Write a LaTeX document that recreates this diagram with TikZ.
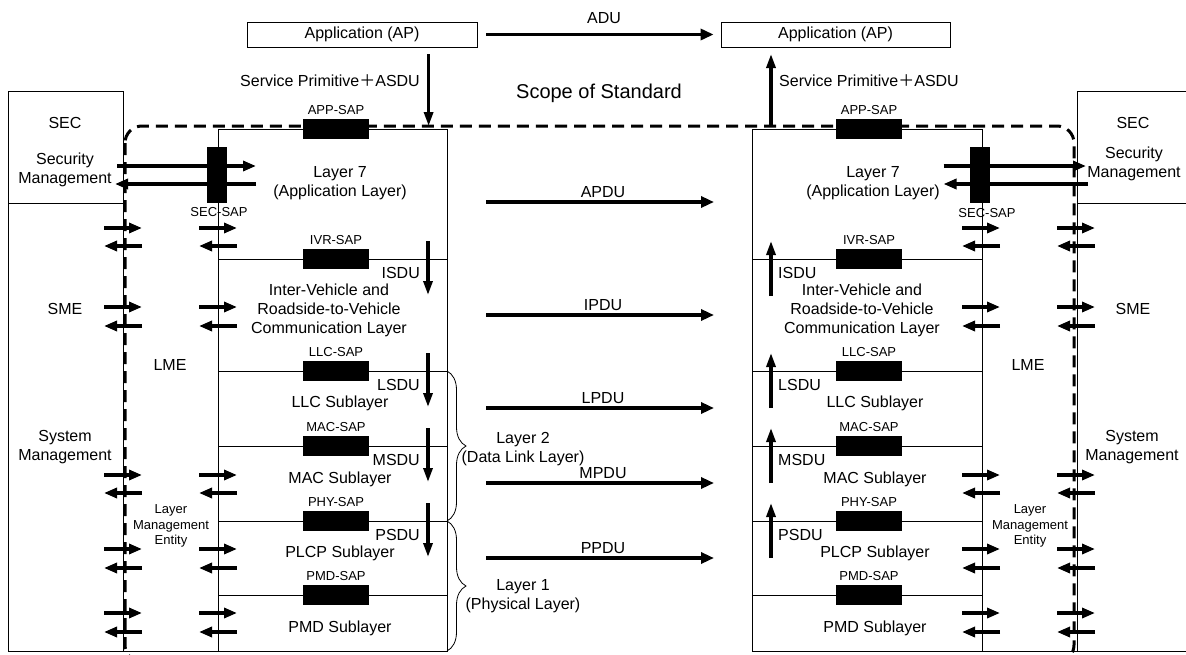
\documentclass[tikz,border=0pt]{standalone}
\usepackage{fontspec}
\setmainfont{Liberation Sans}
\newfontfamily\cjk{Noto Sans CJK SC}
\usetikzlibrary{arrows.meta,decorations.pathreplacing}

\tikzset{
  frame/.style={draw=black,line width=0.8pt},
  lbl/.style={inner sep=0pt,align=center,font=\fontsize{16}{19}\selectfont},
  saptxt/.style={inner sep=0pt,align=center,font=\fontsize{13}{15.5}\selectfont},
  sap/.style={fill=black,draw=none,inner sep=0pt,minimum width=66pt,minimum height=20pt},
  secsap/.style={fill=black,draw=none,inner sep=0pt,minimum width=20pt,minimum height=56pt},
  pdu/.style={-{Triangle[length=13pt,width=11pt]},line width=3.2pt},
  sdu/.style={-{Triangle[length=14pt,width=9pt]},line width=3.2pt},
  side/.style={-{Triangle[length=13pt,width=10pt]},line width=3.2pt},
  stdscope/.style={line width=3pt,dash pattern=on 12pt off 7pt,rounded corners=17pt},
  layerbrace/.style={decorate,decoration={brace,amplitude=19pt},line width=0.8pt}
}

\begin{document}
\begin{tikzpicture}[x=1pt,y=-1pt]
\useasboundingbox (0,0) rectangle (1186,654);
\clip (0,0) rectangle (1186,654);

% applications on top
\node[frame,lbl,minimum width=230pt,minimum height=25pt] (apL) at (362,34.5) {Application (AP)};
\node[frame,lbl,minimum width=229pt,minimum height=25pt] (apR) at (835.5,34.5) {Application (AP)};
\node[lbl] (adu) at (604,18) {ADU};
\node[lbl,anchor=east] (spL) at (420,81) {Service Primitive{\cjk ＋}ASDU};
\node[lbl,anchor=west] (spR) at (779,81) {Service Primitive{\cjk ＋}ASDU};
\node[inner sep=0pt,font=\fontsize{20}{24}\selectfont] (std) at (599,93) {Scope of Standard};

% management columns
\draw[frame] (8,91) rectangle (123,651);
\draw[frame] (8,203) -- (123,203);
\draw[frame] (1077,91) rectangle (1195,651);
\draw[frame] (1077,203) -- (1195,203);
\draw[frame] (123,651) -- (218,651);
\draw[frame] (982,651) -- (1077,651);

% layer stacks
\draw[frame] (218,129) rectangle (447,651);
\draw[frame] (752,129) rectangle (982,651);
\foreach \y in {259,371,446,521,595}{
  \draw[frame] (218,\y) -- (447,\y);
  \draw[frame] (752,\y) -- (982,\y);
}

\node[lbl] (secLt) at (65,123) {SEC};
\node[lbl] (smgLt) at (65,170) {Security\\Management};
\node[lbl] (smeLt) at (65,309) {SME};
\node[lbl] (sysLt) at (65,447.5) {System\\Management};
\node[lbl] (lmeLt) at (170,365) {LME};
\node[saptxt] (entLt) at (171,526) {Layer\\Management\\Entity};
\node[lbl] (secRt) at (1133,123) {SEC};
\node[lbl] (smgRt) at (1134,163.5) {Security\\Management};
\node[lbl] (smeRt) at (1133,309) {SME};
\node[lbl] (sysRt) at (1132,447.5) {System\\Management};
\node[lbl] (lmeRt) at (1028,365) {LME};
\node[saptxt] (entRt) at (1030,526) {Layer\\Management\\Entity};

\node[lbl] (l7L) at (340,183) {Layer 7\\(Application Layer)};
\node[lbl] (ivcL) at (329,310) {Inter-Vehicle and\\Roadside-to-Vehicle\\Communication Layer};
\node[lbl] (llcL) at (340,403) {LLC Sublayer};
\node[lbl] (macL) at (340,479) {MAC Sublayer};
\node[lbl] (plcpL) at (340,553) {PLCP Sublayer};
\node[lbl] (pmdL) at (340,628) {PMD Sublayer};
\node[lbl] (l7R) at (873,183) {Layer 7\\(Application Layer)};
\node[lbl] (ivcR) at (862,310) {Inter-Vehicle and\\Roadside-to-Vehicle\\Communication Layer};
\node[lbl] (llcR) at (875,403) {LLC Sublayer};
\node[lbl] (macR) at (875,479) {MAC Sublayer};
\node[lbl] (plcpR) at (875,553) {PLCP Sublayer};
\node[lbl] (pmdR) at (875,628) {PMD Sublayer};

% service access points
\foreach \y/\t [count=\k] in {129/APP,259/IVR,371/LLC,446/MAC,521/PHY,595/PMD}{
  \node[sap] (sapL\k) at (336,\y) {};
  \node[saptxt] (sapLt\k) at (336,\y-19) {\t-SAP};
  \node[sap] (sapR\k) at (869,\y) {};
  \node[saptxt] (sapRt\k) at (869,\y-19) {\t-SAP};
}
\node[secsap] (secsapL) at (217,175) {};
\node[saptxt] (secsapLt) at (219,212) {SEC-SAP};
\node[secsap] (secsapR) at (980,175) {};
\node[saptxt] (secsapRt) at (987,213) {SEC-SAP};

% scope of standard
\draw[stdscope] (125,126) rectangle (1074,662);

% layer braces
\coordinate (brA) at (447,371);
\coordinate (brB) at (447,521);
\coordinate (brC) at (447,651);
\draw[layerbrace] (brA) -- (brB);
\draw[layerbrace] (brB) -- (brC);
\node[lbl] (lay2) at (523,449) {Layer 2\\(Data Link Layer)};
\node[lbl] (lay1) at (523,596) {Layer 1\\(Physical Layer)};

% primitives
\draw[pdu] ([xshift=9pt]apL.east) -- ([xshift=-7pt]apR.west);
\coordinate (spA) at (428.6,54);
\coordinate (spB) at (428.6,126);
\draw[sdu] (spA) -- (spB);
\coordinate (spC) at (771,126);
\coordinate (spD) at (771,54);
\draw[sdu] (spC) -- (spD);

\foreach \y/\t [count=\k] in {202/APDU,315/IPDU,408/LPDU,483/MPDU,558/PPDU}{
  \coordinate (pduA\k) at (486,\y);
  \coordinate (pduB\k) at (714,\y);
  \draw[pdu] (pduA\k) -- (pduB\k);
  \node[lbl] (pduT\k) at (603,\y-10) {\t};
}

\foreach \y/\t [count=\k] in {259/ISDU,371/LSDU,446/MSDU,521/PSDU}{
  \coordinate (dnA\k) at (428,\y-18);
  \coordinate (dnB\k) at (428,\y+36);
  \draw[sdu] (dnA\k) -- (dnB\k);
  \node[lbl,anchor=east] (dnT\k) at (420,\y+14) {\t};
  \coordinate (upA\k) at (771,\y+37);
  \coordinate (upB\k) at (771,\y-18);
  \draw[sdu] (upA\k) -- (upB\k);
  \node[lbl,anchor=west] (upT\k) at (778,\y+14) {\t};
}

% security management
\coordinate (secA) at (117,166);
\coordinate (secB) at (256,166);
\coordinate (secC) at (256,184);
\coordinate (secD) at (115,184);
\draw[side] (secA) -- (secB);
\draw[side] (secC) -- (secD);
\coordinate (secE) at (943.5,166);
\coordinate (secF) at (1086,166);
\coordinate (secG) at (1088,184);
\coordinate (secH) at (943.5,184);
\draw[side] (secE) -- (secF);
\draw[side] (secG) -- (secH);

% management interfaces
\foreach \y/\z [count=\k] in {228/246,307/326,475/493,549/568,613/632}{
  \foreach \xa/\xb/\c in {104/142/smL,199/237/lmL,962/1000/lmR,1057/1095/smR}{
    \coordinate (\c a\k) at (\xa,\y);
    \coordinate (\c b\k) at (\xb,\y);
    \coordinate (\c c\k) at (\xa,\z);
    \coordinate (\c d\k) at (\xb,\z);
    \draw[side] (\c a\k) -- (\c b\k);
    \draw[side] (\c d\k) -- (\c c\k);
  }
}
\end{tikzpicture}
\end{document}
